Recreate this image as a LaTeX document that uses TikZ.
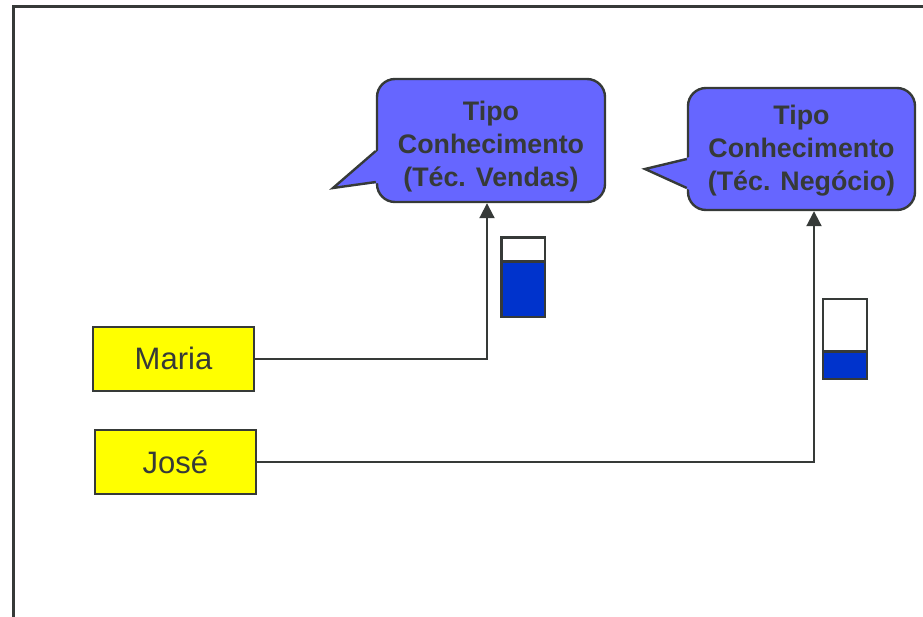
\documentclass[tikz,border=0pt]{standalone}
\usepackage{fontspec}
\setmainfont{Liberation Sans}
\usetikzlibrary{arrows.meta}
\definecolor{dark}{HTML}{363A38}
\definecolor{bubblefill}{HTML}{6666FF}
\definecolor{gaugeblue}{HTML}{0033CC}
\definecolor{boxyellow}{HTML}{FFFF00}
\tikzset{
  bubble/.style={draw=dark, fill=bubblefill, line width=2.4pt, rounded corners=18pt,
    inner sep=0pt, align=center, text=dark,
    font=\fontsize{26.8}{33}\selectfont\bfseries},
  person/.style={draw=dark, fill=boxyellow, line width=2pt, minimum width=161pt,
    minimum height=64pt, inner sep=0pt, text=dark, font=\fontsize{31}{36}\selectfont},
  conn/.style={draw=dark, line width=2pt, -{Triangle[width=15pt,length=15pt]}},
  gauge/.style={draw=dark, line width=2.6pt},
}
\begin{document}
\begin{tikzpicture}[x=1pt,y=-1pt]
\useasboundingbox (0,0) rectangle (923,616);
\draw[dark, line width=2.7pt] (13.7,700) -- (13.7,6.2) -- (1000,6.2);

% bubbles
\node[bubble, minimum width=228pt, minimum height=123pt] (b1) at (491,140.5)
  {\rule{0pt}{31pt}Tipo\\Conhecimento\\(Téc. Vendas)};
\fill[bubblefill] ([xshift=3pt]b1.west |- 0,150) -- (333,188) -- ([xshift=3pt]b1.west |- 0,183) -- cycle;
\coordinate (t1) at (333,188);
\draw[dark, line width=2.4pt, line join=miter] (b1.west |- 0,151) -- (t1) -- (b1.west |- 0,182);

\node[bubble, minimum width=227pt, minimum height=122pt] (b2) at (801.5,149)
  {\rule{0pt}{22pt}Tipo\\Conhecimento\\(Téc. Negócio)};
\fill[bubblefill] ([xshift=3pt]b2.west |- 0,157) -- (645,169) -- ([xshift=3pt]b2.west |- 0,190) -- cycle;
\coordinate (t2) at (645,169);
\draw[dark, line width=2.4pt, line join=miter] (b2.west |- 0,159) -- (t2) -- (b2.west |- 0,188);

% persons
\node[person] (maria) at (173.5,358.5) {Maria};
\node[person] (jose) at (175.3,462) {José};

% connectors
\draw[conn] (maria.east) -| ([xshift=-4pt]b1.south);
\draw[conn] (jose.east) -| ([xshift=12.5pt]b2.south);

% gauges
\fill[white] (501.7,237.7) rectangle (545,261.7);
\fill[gaugeblue] (501.7,261.7) rectangle (545,317);
\draw[gauge] (501.7,237.7) rectangle (545,317);
\draw[gauge] (501.7,261.7) -- (545,261.7);

\fill[white] (823,299) rectangle (867,351.7);
\fill[gaugeblue] (823,351.7) rectangle (867,379);
\draw[gauge] (823,299) rectangle (867,379);
\draw[gauge] (823,351.7) -- (867,351.7);
\end{tikzpicture}
\end{document}
